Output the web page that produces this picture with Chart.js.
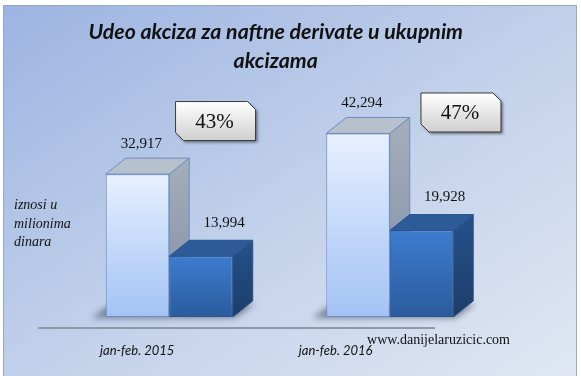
<!DOCTYPE html>
<html><head><meta charset="utf-8">
<script src="https://cdn.jsdelivr.net/npm/chart.js@4.4.1/dist/chart.umd.min.js"></script>
<style>html,body{margin:0;padding:0;background:#fff;overflow:hidden}#wrap{width:581px;height:376px;position:relative}canvas{display:block}</style>
</head><body><div id="wrap"><canvas id="c" width="581" height="376"></canvas></div>
<script>
// ---- data ----
const categories = ['jan-feb. 2015', 'jan-feb. 2016'];
const totalExcise = [32917, 42294];
const fuelExcise = [13994, 19928];
const shareLabels = ['43%', '47%'];
const seriesNames = ['Ukupne akcize', 'Akcize na naftne derivate'];
const titleLines = ['Udeo akciza za naftne derivate u ukupnim', 'akcizama'];
const yAxisLabel = ['iznosi u', 'milionima', 'dinara'];
const watermark = 'www.danijelaruzicic.com';
const yMin = 0, yMax = 50000;
// callout anchors in data space (category index, value)
const calloutAt = [[0.21, 45150], [1.323, 47120]];

// ---- styling ----
const DX = 20, DY = -16;
const styles = [
  { frontTop: '#e7f0ff', frontBot: '#a3c2f4', border: '#6b8dc2', sideTop: '#a6aebb', sideBot: '#7f8da4', top: '#b7c0cd' },
  { frontTop: '#3d7cd0', frontBot: '#2b5b9c', border: '#2a5590', sideTop: '#25518b', sideBot: '#1c3d6a', top: '#2c5b97' }
];

function frontGradient(dsIndex) {
  return (ctx) => {
    const chart = ctx.chart;
    const st = styles[dsIndex];
    if (!chart.chartArea || ctx.type !== 'data') return st.frontBot;
    const y = chart.scales.y;
    const top = y.getPixelForValue(ctx.raw), bot = y.getPixelForValue(0);
    const g = chart.ctx.createLinearGradient(0, top, 0, bot);
    g.addColorStop(0, st.frontTop);
    g.addColorStop(1, st.frontBot);
    return g;
  };
}

function poly(ctx, pts) {
  ctx.beginPath();
  ctx.moveTo(pts[0][0], pts[0][1]);
  for (let i = 1; i < pts.length; i++) ctx.lineTo(pts[i][0], pts[i][1]);
  ctx.closePath();
}

const decor = {
  id: 'decor',
  beforeDraw(chart) {
    const ctx = chart.ctx, W = chart.width, H = chart.height;
    ctx.save();
    ctx.fillStyle = '#ffffff';
    ctx.fillRect(0, 0, W, H);
    const fx = 3, fy = 5, fw = W - 7, fh = H;
    const g = ctx.createLinearGradient(fx, fy, fx + 338, fy + 523);
    g.addColorStop(0, '#9cb4e2');
    g.addColorStop(0.5, '#c1d0ea');
    g.addColorStop(1, '#e0e7f3');
    ctx.fillStyle = g;
    ctx.fillRect(fx, fy, fw, fh);
    ctx.strokeStyle = '#9aa6ba';
    ctx.lineWidth = 1;
    ctx.strokeRect(fx + 0.5, fy + 0.5, fw - 1, fh);
    ctx.restore();
  },
  beforeDatasetsDraw(chart) {
    const ctx = chart.ctx;
    ctx.save();
    // floor shadows
    ctx.filter = 'blur(3px)';
    ctx.fillStyle = 'rgba(45,55,75,0.55)';
    const m0 = chart.getDatasetMeta(0).data, m1 = chart.getDatasetMeta(1).data;
    for (let i = 0; i < m0.length; i++) {
      const l = m0[i].x - m0[i].width / 2, r = m1[i].x + m1[i].width / 2, b = m0[i].base;
      poly(ctx, [[l - 14, b + 1], [r + 2, b + 1], [r + DX + 2, b + DY + 3], [l + DX - 14, b + DY + 3]]);
      ctx.fill();
    }
    ctx.filter = 'none';
    // side & top faces
    chart.data.datasets.forEach((ds, di) => {
      const st = styles[di];
      chart.getDatasetMeta(di).data.forEach((el) => {
        const l = el.x - el.width / 2, r = el.x + el.width / 2, t = el.y, b = el.base;
        const gs = ctx.createLinearGradient(0, t + DY, 0, b);
        gs.addColorStop(0, st.sideTop);
        gs.addColorStop(1, st.sideBot);
        poly(ctx, [[r, t], [r + DX, t + DY], [r + DX, b + DY], [r, b]]);
        ctx.fillStyle = gs; ctx.fill();
        ctx.strokeStyle = st.border; ctx.lineWidth = 1; ctx.stroke();
        poly(ctx, [[l, t], [l + DX, t + DY], [r + DX, t + DY], [r, t]]);
        ctx.fillStyle = st.top; ctx.fill();
        ctx.stroke();
      });
    });
    ctx.restore();
  },
  afterDatasetsDraw(chart) {
    const ctx = chart.ctx;
    ctx.save();
    // value labels
    ctx.fillStyle = '#111';
    ctx.font = '15px "Liberation Serif"';
    ctx.textAlign = 'center';
    ctx.textBaseline = 'middle';
    const lblDx = [4, 23], lblDy = [-14, -17];
    chart.data.datasets.forEach((ds, di) => {
      chart.getDatasetMeta(di).data.forEach((el, i) => {
        ctx.fillText(ds.data[i].toLocaleString('en-US'), el.x + lblDx[di], el.y + DY + lblDy[di]);
      });
    });
    // callouts
    const xs = chart.scales.x, ys = chart.scales.y;
    shareLabels.forEach((txt, i) => {
      const cx = xs.getPixelForValue(calloutAt[i][0]);
      const cy = ys.getPixelForValue(calloutAt[i][1]);
      const w = 80, h = 39, c = 8;
      const l = cx - w / 2, t = cy - h / 2, r = cx + w / 2, b = cy + h / 2;
      const pts = [[l, t], [r - c, t], [r, t + c], [r, b], [l + c, b], [l, b - c]];
      ctx.save();
      ctx.shadowColor = 'rgba(0,0,0,0.45)';
      ctx.shadowBlur = 3; ctx.shadowOffsetX = 2; ctx.shadowOffsetY = 2;
      const g = ctx.createLinearGradient(0, t, 0, b);
      g.addColorStop(0, '#ffffff');
      g.addColorStop(1, '#cfcfcf');
      poly(ctx, pts);
      ctx.fillStyle = g; ctx.fill();
      ctx.restore();
      poly(ctx, pts);
      ctx.strokeStyle = '#3a3a3a'; ctx.lineWidth = 1; ctx.stroke();
      ctx.fillStyle = '#111';
      ctx.font = '21px "Liberation Serif"';
      ctx.textAlign = 'center'; ctx.textBaseline = 'middle';
      ctx.fillText(txt, cx - 1, cy + 1);
    });
    ctx.restore();
  },
  afterDraw(chart) {
    const ctx = chart.ctx, ca = chart.chartArea, xs = chart.scales.x;
    const floorX = (px) => ca.left - 21 + (px - ca.left) * 0.9;
    ctx.save();
    // axis line (front edge of floor)
    ctx.strokeStyle = '#8d98aa';
    ctx.lineWidth = 2;
    ctx.beginPath();
    ctx.moveTo(floorX(ca.left), ca.bottom + 11);
    ctx.lineTo(floorX(ca.right), ca.bottom + 11);
    ctx.stroke();
    // category labels
    ctx.fillStyle = '#111';
    ctx.font = 'italic 13px Lato';
    ctx.textAlign = 'center';
    ctx.textBaseline = 'alphabetic';
    categories.forEach((c, i) => ctx.fillText(c, floorX(xs.getPixelForValue(i)), ca.bottom + 38));
    // title
    ctx.font = 'italic bold 21.3px Lato';
    ctx.fillText(titleLines[0], 275.7, 39);
    ctx.fillText(titleLines[1], 275.7, 68);
    // y axis label
    ctx.font = 'italic 14px "Liberation Serif"';
    ctx.textAlign = 'left';
    yAxisLabel.forEach((s, i) => ctx.fillText(s, 14, 209 + i * 18.5));
    // watermark
    ctx.font = '14px "Liberation Serif"';
    ctx.textAlign = 'right';
    ctx.fillText(watermark, 510, 343.5);
    ctx.restore();
  }
};

new Chart(document.getElementById('c'), {
  type: 'bar',
  data: {
    labels: categories,
    datasets: [
      { label: seriesNames[0], data: totalExcise, backgroundColor: frontGradient(0), borderColor: styles[0].border, borderWidth: 1, borderSkipped: false },
      { label: seriesNames[1], data: fuelExcise, backgroundColor: frontGradient(1), borderColor: styles[1].border, borderWidth: 1, borderSkipped: false }
    ]
  },
  options: {
    responsive: false,
    animation: false,
    devicePixelRatio: 1,
    layout: { padding: { left: 59, right: 81, top: 100, bottom: 59 } },
    datasets: { bar: { categoryPercentage: 0.576, barPercentage: 1.0 } },
    scales: {
      x: { display: false, offset: true },
      y: { display: false, min: yMin, max: yMax }
    },
    plugins: { legend: { display: false }, tooltip: { enabled: false }, title: { display: false } }
  },
  plugins: [decor]
});
</script>
</body></html>
